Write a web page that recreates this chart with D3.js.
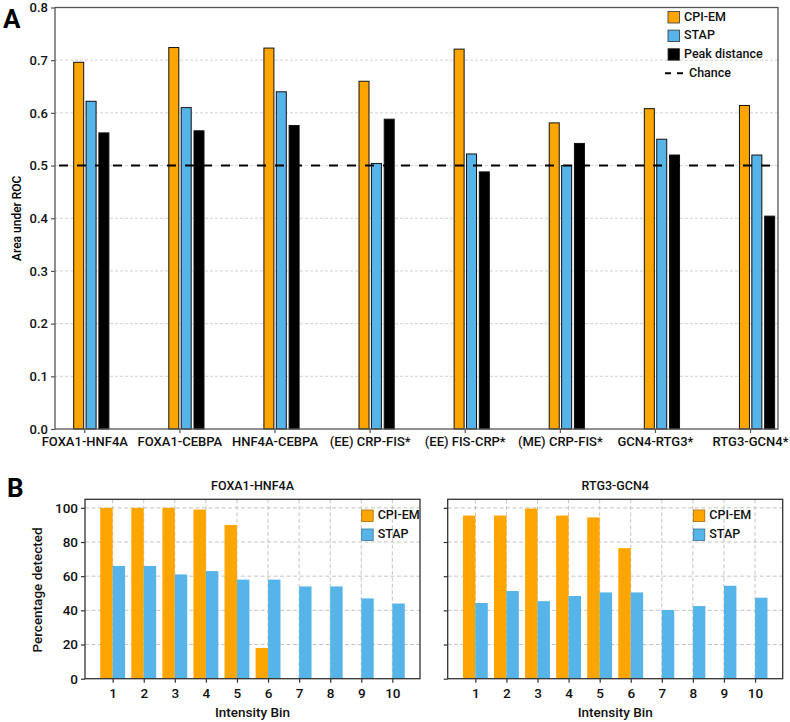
<!DOCTYPE html>
<html><head><meta charset="utf-8">
<script src="https://cdn.jsdelivr.net/npm/d3@7"></script>
<style>
body{margin:0;background:#fff;}
svg{display:block;font-family:Roboto,"Noto Sans",sans-serif;font-weight:500;}
svg text{font-family:Roboto,"Noto Sans",sans-serif !important;}
</style></head>
<body><svg id="c" width="790" height="722"></svg>
<script>
// ---- Data ----
const pairs = ["FOXA1-HNF4A","FOXA1-CEBPA","HNF4A-CEBPA","(EE) CRP-FIS*","(EE) FIS-CRP*","(ME) CRP-FIS*","GCN4-RTG3*","RTG3-GCN4*"];
const cpiEM = [0.696,0.724,0.723,0.660,0.721,0.581,0.608,0.614];
const stap = [0.622,0.610,0.640,0.504,0.522,0.500,0.550,0.520];
const peakDist = [0.562,0.566,0.576,0.588,0.488,0.542,0.520,0.404];
const chance = 0.5;
const aucTicks = [0.0,0.1,0.2,0.3,0.4,0.5,0.6,0.7,0.8];

const bins = [1,2,3,4,5,6,7,8,9,10];
const pctTicks = [0,20,40,60,80,100];
const foxaCPI = [100,100,100,99,90,18,0,0,0,0];
const foxaSTAP = [66,66,61,63,58,58,54,54,47,44];
const rtgCPI = [95.5,95.5,99.6,95.5,94.4,76.4,0,0,0,0];
const rtgSTAP = [44.3,51.3,45.4,48.4,50.5,50.5,40.2,42.5,54.4,47.4];

const ORANGE = "#FFA500", BLUE = "#56B4E9", BLACK = "#000";
const svg = d3.select("#c");
const spine = "#555";
const FONT = "Roboto, 'Noto Sans', sans-serif";

// ---- Panel A ----
const A = {l:55, r:778, t:7.5, b:429};
const xA = d3.scaleLinear().domain([-0.308, 7.294]).range([A.l, A.r]);
const yA = d3.scaleLinear().domain([0, 0.8]).range([A.b, A.t]);
const gA = svg.append("g");

gA.selectAll("line.grid").data(aucTicks.filter(d=>d>0 && d<0.8)).join("line")
  .attr("x1",A.l).attr("x2",A.r).attr("y1",d=>yA(d)).attr("y2",d=>yA(d))
  .attr("stroke","#c8c8c8").attr("stroke-width",0.8).attr("stroke-dasharray","3,2");

const bw = 10;
const seriesA = [{vals:cpiEM,color:ORANGE,off:-5.6},{vals:stap,color:BLUE,off:6.8},{vals:peakDist,color:BLACK,off:19.6}];
seriesA.forEach(s=>{
  gA.append("g").selectAll("rect").data(s.vals).join("rect")
    .attr("x",(d,i)=>xA(i)+s.off-bw/2).attr("width",bw)
    .attr("y",d=>yA(d)).attr("height",d=>yA(0)-yA(d))
    .attr("fill",s.color).attr("stroke","#111").attr("stroke-width",1);
});

gA.append("line").attr("x1",A.l).attr("x2",A.r).attr("y1",yA(chance)).attr("y2",yA(chance))
  .attr("stroke","#000").attr("stroke-width",2).attr("stroke-dasharray","9,9").attr("stroke-dashoffset",-4);

gA.append("rect").attr("x",A.l).attr("y",A.t).attr("width",A.r-A.l).attr("height",A.b-A.t)
  .attr("fill","none").attr("stroke",spine).attr("stroke-width",1.3);

const axAy = gA.append("g").attr("transform",`translate(${A.l},0)`)
  .call(d3.axisLeft(yA).tickValues(aucTicks).tickFormat(d3.format(".1f")).tickSize(4).tickPadding(3));
const axAx = gA.append("g").attr("transform",`translate(0,${A.b})`)
  .call(d3.axisBottom(xA).tickValues(d3.range(pairs.length)).tickFormat(i=>pairs[i]).tickSize(4).tickPadding(4));
[axAy,axAx].forEach(ax=>{
  ax.attr("font-family",FONT);
  ax.select(".domain").remove();
  ax.selectAll(".tick line").attr("stroke",spine).attr("stroke-width",1.2);
  ax.selectAll("text").attr("fill","#111").style("font-size","13px").style("font-weight","500");
});
gA.append("text").attr("transform",`translate(18,${(A.t+A.b)/2}) rotate(-90)`)
  .attr("text-anchor","middle").attr("dominant-baseline","middle").style("font-size","12px").text("Area under ROC");

const legA = gA.append("g").attr("transform","translate(668,11.5)");
const legItems = [{n:"CPI-EM",c:ORANGE},{n:"STAP",c:BLUE},{n:"Peak distance",c:BLACK}];
legItems.forEach((d,i)=>{
  const g = legA.append("g").attr("transform",`translate(0,${i*18.6})`);
  g.append("rect").attr("width",11.5).attr("height",11.5).attr("fill",d.c).attr("stroke","#333").attr("stroke-width",0.8);
  g.append("text").attr("x",16).attr("y",6).attr("dominant-baseline","middle").style("font-size","12.5px").attr("fill","#111").text(d.n);
});
{
  const g = legA.append("g").attr("transform",`translate(0,${3*18.6})`);
  g.append("line").attr("x1",-3).attr("x2",16).attr("y1",6).attr("y2",6).attr("stroke","#000").attr("stroke-width",2).attr("stroke-dasharray","6,6");
  g.append("text").attr("x",21).attr("y",6).attr("dominant-baseline","middle").style("font-size","12.5px").attr("fill","#111").text("Chance");
}
svg.append("text").attr("x",3).attr("y",28).style("font-size","26px").style("font-weight","700").text("A");

// ---- Panel B ----
function binPanel(left, right, title, cpi, stp, showYLabels, legX){
  const P = {l:left, r:right, t:499.3, b:678.7};
  const x = d3.scaleLinear().domain([0.11,10.89]).range([P.l,P.r]);
  const y = d3.scaleLinear().domain([0,105]).range([P.b,P.t]);
  const g = svg.append("g");
  g.selectAll("line.gy").data(pctTicks.filter(d=>d>0)).join("line")
    .attr("x1",P.l).attr("x2",P.r).attr("y1",d=>y(d)).attr("y2",d=>y(d))
    .attr("stroke","#bdbdbd").attr("stroke-width",0.9).attr("stroke-dasharray","4,2.5");
  g.selectAll("line.gx").data(bins).join("line")
    .attr("x1",d=>x(d)).attr("x2",d=>x(d)).attr("y1",P.t).attr("y2",P.b)
    .attr("stroke","#bdbdbd").attr("stroke-width",0.9).attr("stroke-dasharray","4,2.5");
  const w = x(0.4)-x(0);
  g.append("g").selectAll("rect").data(cpi).join("rect")
    .attr("x",(d,i)=>x(bins[i]-0.4)).attr("width",w)
    .attr("y",d=>y(d)).attr("height",d=>y(0)-y(d)).attr("fill",ORANGE);
  g.append("g").selectAll("rect").data(stp).join("rect")
    .attr("x",(d,i)=>x(bins[i])).attr("width",w)
    .attr("y",d=>y(d)).attr("height",d=>y(0)-y(d)).attr("fill",BLUE);
  g.append("rect").attr("x",P.l).attr("y",P.t).attr("width",P.r-P.l).attr("height",P.b-P.t)
    .attr("fill","none").attr("stroke","#333").attr("stroke-width",1.3);
  const ay = g.append("g").attr("transform",`translate(${P.l},0)`)
    .call(d3.axisLeft(y).tickValues(pctTicks).tickFormat(showYLabels? d3.format("d") : "").tickSize(4).tickPadding(3));
  const ax = g.append("g").attr("transform",`translate(0,${P.b})`)
    .call(d3.axisBottom(x).tickValues(bins).tickFormat(d3.format("d")).tickSize(4).tickPadding(6));
  [ay,ax].forEach(a=>{
    a.attr("font-family",FONT);
    a.select(".domain").remove();
    a.selectAll(".tick line").attr("stroke","#333").attr("stroke-width",1.2);
    a.selectAll("text").attr("fill","#111").style("font-size","13.5px").style("font-weight","500");
  });
  g.append("text").attr("x",(P.l+P.r)/2).attr("y",487).attr("text-anchor","middle").attr("dominant-baseline","middle")
    .style("font-size","12.5px").attr("fill","#111").text(title);
  g.append("text").attr("x",(P.l+P.r)/2).attr("y",713).attr("text-anchor","middle").attr("dominant-baseline","middle")
    .style("font-size","13.5px").attr("fill","#111").text("Intensity Bin");
  const lg = g.append("g").attr("transform",`translate(${legX},510)`);
  [{n:"CPI-EM",c:ORANGE},{n:"STAP",c:BLUE}].forEach((d,i)=>{
    const r = lg.append("g").attr("transform",`translate(0,${i*19})`);
    r.append("rect").attr("width",11.5).attr("height",11.5).attr("fill",d.c).attr("stroke",d3.color(d.c).darker(1.2)).attr("stroke-width",0.8);
    r.append("text").attr("x",16).attr("y",6).attr("dominant-baseline","middle").style("font-size","12.5px").attr("fill","#111").text(d.n);
  });
}
binPanel(85, 420, "FOXA1-HNF4A", foxaCPI, foxaSTAP, true, 361.7);
binPanel(447.7, 782.7, "RTG3-GCN4", rtgCPI, rtgSTAP, false, 693.3);
svg.append("text").attr("transform","translate(38,590) rotate(-90)").attr("text-anchor","middle").attr("dominant-baseline","middle")
  .style("font-size","13.5px").attr("fill","#111").text("Percentage detected");
svg.append("text").attr("x",7).attr("y",497).style("font-size","26px").style("font-weight","700").text("B");
</script></body></html>
